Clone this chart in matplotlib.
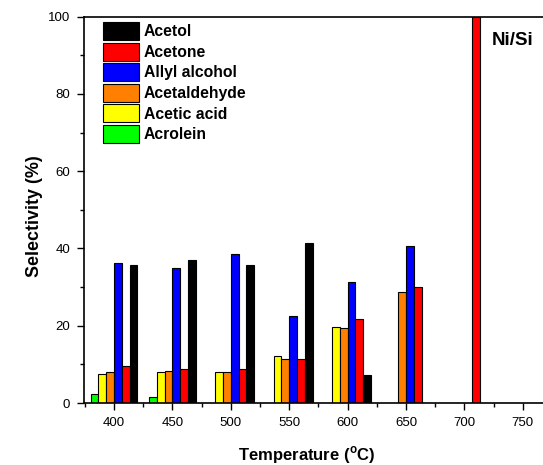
import matplotlib
matplotlib.use("Agg")
import matplotlib.pyplot as plt
from matplotlib.patches import Patch
from matplotlib.ticker import MultipleLocator
import numpy as np

plt.rcParams['font.family'] = ['Liberation Sans', 'DejaVu Sans']

temperatures = [400, 450, 500, 550, 600, 650, 700]
products = ["Acrolein", "Acetic acid", "Acetaldehyde", "Allyl alcohol", "Acetone", "Acetol"]
colors = ["#00ff00", "#ffff00", "#ff7f00", "#0000ff", "#ff0000", "#000000"]

acrolein = [2.3, 1.6, 0, 0, 0, 0, 0]
acetic_acid = [7.5, 7.9, 8.0, 12.2, 19.6, 0, 0]
acetaldehyde = [7.9, 8.3, 8.0, 11.3, 19.3, 28.7, 0]
allyl_alcohol = [36.2, 35.0, 38.6, 22.6, 31.2, 40.7, 0]
acetone = [9.6, 8.8, 8.7, 11.3, 21.8, 30.1, 100]
acetol = [35.8, 37.1, 35.8, 41.5, 7.2, 0, 0]

series = [acrolein, acetic_acid, acetaldehyde, allyl_alcohol, acetone, acetol]

W, H = 543, 465
fig = plt.figure(figsize=(W / 100, H / 100), dpi=100)

x0, xmax = 374.3, 800
px_per_unit = 1.168
ax_left_px = 84
ax_width_px = (xmax - x0) * px_per_unit
ax_height_px = 403 - 16.7
ax = fig.add_axes([ax_left_px / W, (H - 403) / H, ax_width_px / W, ax_height_px / H])

bar_w = 7.8 / px_per_unit
x = np.array(temperatures, dtype=float)
for i, (vals, col) in enumerate(zip(series, colors)):
    offs = (i - 2.5) * bar_w
    v = np.array(vals, dtype=float)
    mask = v > 0
    ax.bar(x[mask] + offs, v[mask], width=bar_w, color=col,
           edgecolor="black", linewidth=0.8, zorder=2)

ax.set_xlim(x0, xmax)
ax.set_ylim(0, 100)
ax.xaxis.set_minor_locator(MultipleLocator(25))
ax.yaxis.set_major_locator(MultipleLocator(20))
ax.yaxis.set_minor_locator(MultipleLocator(10))
ax.set_xticks([400, 450, 500, 550, 600, 650, 700, 750])
ax.tick_params(which="major", direction="out", length=5, width=1, labelsize=9.5,
               colors="black", pad=5)
ax.tick_params(which="minor", direction="out", length=3, width=1)
ax.tick_params(axis="x", which="both", top=False)
ax.tick_params(axis="y", which="both", right=False)
for s in ax.spines.values():
    s.set_linewidth(1.2)

ax.set_xlabel("Temperature ($^{\\mathregular{o}}$C)", fontsize=12, fontweight="bold", labelpad=11)
ax.xaxis.label.set_x((307 - ax_left_px) / ax_width_px)
ax.set_ylabel("Selectivity (%)", fontsize=12.9, fontweight="bold", labelpad=3.5)
ax.yaxis.label.set_y((403 - 216) / ax_height_px)

fig.text(492 / W, (H - 45) / H, "Ni/Si", fontsize=13.5, fontweight="bold", ha="left", va="baseline")

handles = [Patch(facecolor=c, edgecolor="black", linewidth=0.8, label=l)
           for l, c in zip(products[::-1], colors[::-1])]
leg = ax.legend(handles=handles, loc="upper left",
                bbox_to_anchor=(103 / W, (H - 22) / H), bbox_transform=fig.transFigure,
                frameon=False, prop={"weight": "bold", "size": 11.3},
                handlelength=2.29, handleheight=1.39, handletextpad=0.3,
                labelspacing=0.165, borderpad=0, borderaxespad=0)

fig.savefig("out.png", dpi=100)
